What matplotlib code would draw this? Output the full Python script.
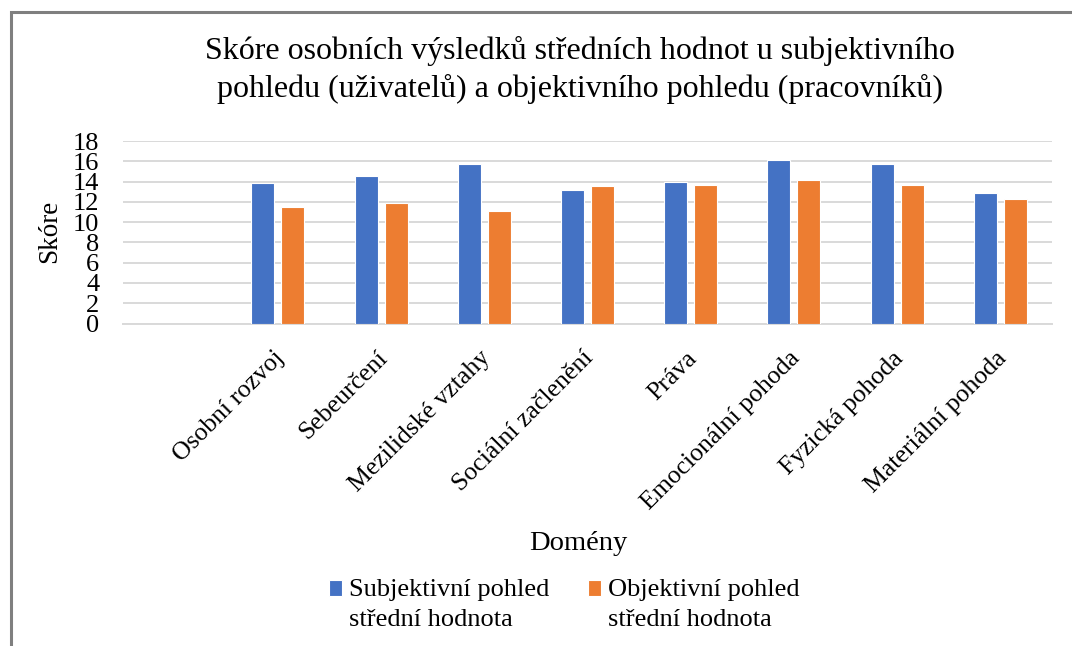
import numpy as np
import matplotlib.pyplot as plt
import matplotlib.transforms as mtransforms
from matplotlib.patches import Rectangle
from matplotlib.container import BarContainer
from matplotlib.legend_handler import HandlerPatch

plt.rcParams['font.family'] = ['Liberation Serif', 'DejaVu Serif']

# Data (first slot is empty in the original)
categories = ['', 'Osobní rozvoj', 'Sebeurčení', 'Mezilidské vztahy', 'Sociální začlenění',
              'Práva', 'Emocionální pohoda', 'Fyzická pohoda', 'Materiální pohoda']
subjektivni = [np.nan, 13.9, 14.5, 15.7, 13.15, 13.95, 16.1, 15.7, 12.9]
objektivni = [np.nan, 11.5, 11.9, 11.1, 13.55, 13.65, 14.15, 13.65, 12.25]
yticks = list(range(0, 19, 2))

blue = '#4472C4'
orange = '#ED7D31'

fig = plt.figure(figsize=(10.72, 6.46), dpi=100)
ax = fig.add_axes([123 / 1072, 1 - 323.5 / 646, 929 / 1072, 182.5 / 646])

x = np.arange(len(categories))
w = 0.223
off = 0.145
ax.bar(x - off, subjektivni, w, color=blue, edgecolor='white', linewidth=0.8,
       label='Subjektivní pohled\nstřední hodnota', zorder=3)
ax.bar(x + off, objektivni, w, color=orange, edgecolor='white', linewidth=0.8,
       label='Objektivní pohled\nstřední hodnota', zorder=3)

ax.set_xlim(-0.5, len(categories) - 0.5)
ax.set_ylim(0, 18)
ax.set_yticks(yticks)
ax.set_yticklabels([str(t) for t in yticks], fontsize=19)
ax.yaxis.grid(True, color='#d9d9d9', linewidth=1.4, zorder=0)
ax.tick_params(axis='both', length=0)
ax.tick_params(axis='y', pad=17)
for s in ['top', 'right', 'left']:
    ax.spines[s].set_visible(False)
ax.spines['bottom'].set_color('#d9d9d9')
ax.spines['bottom'].set_linewidth(1.4)

ax.set_xticks(x)
ax.set_xticklabels(categories, rotation=45, ha='right', va='top',
                   rotation_mode='anchor', fontsize=18.5)
ax.tick_params(axis='x', pad=17)
shift = mtransforms.ScaledTranslation(-5 / 100, 0, fig.dpi_scale_trans)
for lab in ax.get_xticklabels():
    lab.set_transform(lab.get_transform() + shift)

fig.text(50 / 1072, 1 - 231 / 646, 'Skóre', rotation=90, ha='center', va='center', fontsize=19.5)
fig.text(578 / 1072, 1 - 543 / 646, 'Domény', ha='center', va='center', fontsize=20.5)
fig.text(580 / 1072, 1 - 70 / 646,
         'Skóre osobních výsledků středních hodnot u subjektivního\n'
         'pohledu (uživatelů) a objektivního pohledu (pracovníků)',
         ha='center', va='center', fontsize=23, linespacing=1.32)


def top_square(legend, orig_handle, xdescent, ydescent, width, height, fontsize):
    # square sits beside the first line of the two-line label
    return Rectangle((-xdescent, -ydescent + 0.6 * fontsize), width, height)


def first_child(handle, orig):
    handle.update_from(orig[0])


leg = fig.legend(loc='upper left', bbox_to_anchor=(318 / 1072, 1 - 568 / 646), ncol=2,
                 frameon=False, fontsize=19, handlelength=0.52, handleheight=0.52,
                 handletextpad=0.25, columnspacing=1.45, borderaxespad=0,
                 handler_map={BarContainer: HandlerPatch(patch_func=top_square,
                                                         update_func=first_child)})
for t in leg.get_texts():
    t.set_linespacing(1.5)

# partial frame of the original chart area
fig.add_artist(Rectangle((11 / 1072, -0.1), 1.2, 1 - 12 / 646 + 0.1, transform=fig.transFigure,
                         fill=False, edgecolor='#7f7f7f', linewidth=2.2))

fig.savefig('out.png', dpi=100)
